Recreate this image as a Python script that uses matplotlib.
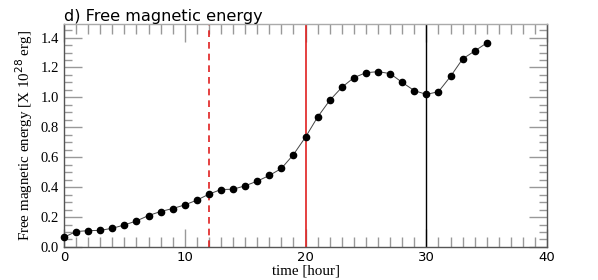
import matplotlib.pyplot as plt
from matplotlib.ticker import MultipleLocator

# hourly free magnetic energy [1e28 erg]
hours = list(range(36))
energy = [0.065, 0.103, 0.109, 0.111, 0.125, 0.147, 0.174, 0.210, 0.237, 0.257,
          0.281, 0.313, 0.353, 0.384, 0.386, 0.409, 0.440, 0.478, 0.525, 0.618,
          0.735, 0.869, 0.980, 1.067, 1.132, 1.165, 1.172, 1.159, 1.100, 1.045,
          1.020, 1.038, 1.140, 1.257, 1.310, 1.364]
x_ticks = [0, 10, 20, 30, 40]
y_ticks = [0.0, 0.2, 0.4, 0.6, 0.8, 1.0, 1.2, 1.4]

fig = plt.figure(figsize=(5.98, 2.8), dpi=100)
ax = fig.add_axes([0.107, 0.118, 0.808, 0.796])

ax.axvline(12, color="#e02020", ls=(0, (4, 3)), lw=1.2)
ax.axvline(20, color="#e02020", lw=1.2)
ax.axvline(30, color="black", lw=1.0)

ax.plot(hours, energy, color="#444444", lw=0.7, marker="o", ms=4.5,
        mfc="black", mec="black", zorder=3, clip_on=False)

ax.set_xlim(0, 40)
ax.set_ylim(0, 1.49)
ax.set_xticks(x_ticks)
ax.set_yticks(y_ticks)
ax.set_yticklabels([f"{v:.1f}" for v in y_ticks], family="Liberation Serif", fontsize=10.5)
ax.set_xticklabels([str(v) for v in x_ticks], family="DejaVu Sans", fontsize=9.5)
ax.xaxis.set_minor_locator(MultipleLocator(1))
ax.yaxis.set_minor_locator(MultipleLocator(0.05))
ax.tick_params(which="both", direction="in", top=True, right=True, color="#999999")
ax.tick_params(which="major", length=13, width=1)
ax.tick_params(which="minor", length=7, width=1)
ax.tick_params(axis="y", which="minor", length=6)
ax.tick_params(axis="x", pad=3)
for s in ax.spines.values():
    s.set_color("#555555")
    s.set_linewidth(1.0)
ax.spines["top"].set_color("#aaaaaa")

ax.set_xlabel("time [hour]", family="Liberation Serif", fontsize=10.8, labelpad=0)
ax.set_ylabel("Free magnetic energy [X 10$^{28}$ erg]", family="Liberation Serif",
              fontsize=10.8, labelpad=4)
ax.set_title("d) Free magnetic energy", loc="left", fontsize=11.6, family="DejaVu Sans", pad=2)

plt.savefig("out.png", dpi=100)
